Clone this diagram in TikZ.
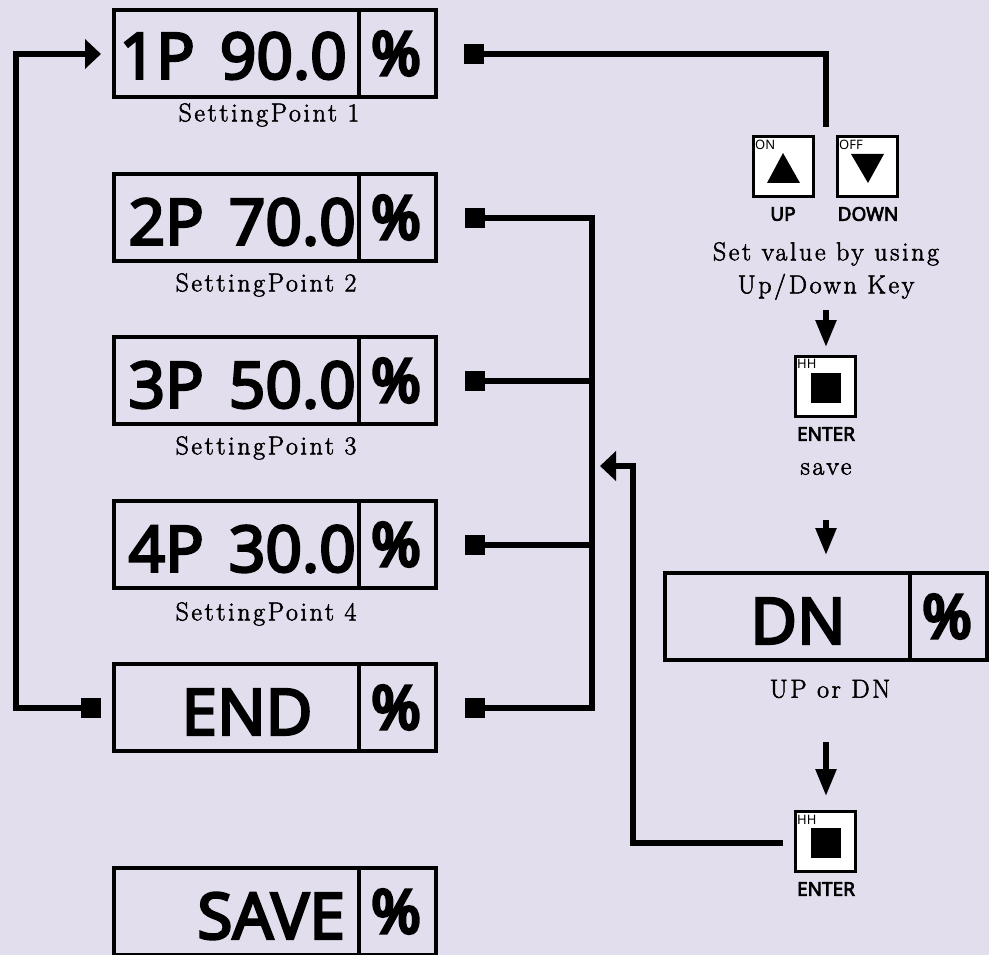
\documentclass[tikz,border=0pt]{standalone}
\usepackage{fontspec}
\usetikzlibrary{arrows.meta,calc}
\newfontfamily\dispfont[FakeBold=3.8,WordSpace=1.5]{Noto Sans}
\newfontfamily\pctfont[FakeBold=5.5]{Noto Sans}
\newfontfamily\keyfont[FakeBold=3.5]{Noto Sans}
\newfontfamily\smallfont{Noto Sans}
\setmainfont[LetterSpace=10,FakeBold=2]{Latin Modern Roman}
\definecolor{bg}{HTML}{E2DEEE}
\newcommand{\pc}{\kern-3pt\raisebox{-3pt}{\%}}
\tikzset{
  x=1pt,y=-1pt,
  disp/.style={draw=black,line width=4.8pt,minimum width=245pt,minimum height=87pt,inner sep=0pt,outer sep=0pt,anchor=north west},
  pct/.style={draw=black,line width=4.8pt,minimum width=77pt,minimum height=87pt,inner sep=0pt,outer sep=0pt,anchor=north west,font=\pctfont\fontsize{60}{60}\selectfont},
  disptext/.style={inner sep=0pt,font=\dispfont\fontsize{64}{64}\selectfont},
  caption/.style={inner sep=0pt,font=\fontsize{26}{26}\selectfont,align=center},
  keybox/.style={draw=black,fill=white,line width=3pt,minimum size=60pt,inner sep=0pt,outer sep=0pt,anchor=north west},
  keyname/.style={inner sep=0pt,font=\keyfont\fontsize{19}{19}\selectfont},
  keytag/.style={inner sep=0pt,font=\smallfont\fontsize{13}{13}\selectfont,anchor=west},
  glyph/.style={fill=black,draw=none},
  marker/.style={fill=black,draw=none,minimum size=20pt,inner sep=0pt,outer sep=0pt},
  conn/.style={draw=black,line width=5.5pt,line cap=butt,line join=miter},
  sidearrow/.style={conn,-{Triangle[length=16pt,width=29pt]}},
  downarrow/.style={conn,-{Triangle[length=27pt,width=20pt]}},
}
\begin{document}
\begin{tikzpicture}
\useasboundingbox (0,0) rectangle (989,955);
\fill[bg] (0,0) rectangle (989,955);
% displays
\node[disp] (d1) at (114,10) {};   \node[pct] (p1) at (d1.north east) {\pc};
\node[disp] (d2) at (114,174) {};  \node[pct] (p2) at (d2.north east) {\pc};
\node[disp] (d3) at (114,337) {};  \node[pct] (p3) at (d3.north east) {\pc};
\node[disp] (d4) at (114,501) {};  \node[pct] (p4) at (d4.north east) {\pc};
\node[disp] (d5) at (114,664) {};  \node[pct] (p5) at (d5.north east) {\pc};
\node[disp] (d6) at (114,868) {};  \node[pct] (p6) at (d6.north east) {\pc};
\node[disp] (dn) at (665,573) {};  \node[pct] (pn) at (dn.north east) {\pc};
\node[disptext,anchor=east] (t1) at (347,56) {1P 90.0};
\node[disptext,anchor=east] (t2) at (356,222) {2P 70.0};
\node[disptext,anchor=east] (t3) at (356,385) {3P 50.0};
\node[disptext,anchor=east] (t4) at (356,549) {4P 30.0};
\node[disptext] (t5) at (247,712) {END};
\node[disptext,anchor=east] (t6) at (345,916) {SAVE};
\node[disptext] (tn) at (798,621) {DN};
% captions
\node[caption] (c1) at (269,115) {SettingPoint 1};
\node[caption] (c2) at (266,285) {SettingPoint 2};
\node[caption] (c3) at (266,448) {SettingPoint 3};
\node[caption] (c4) at (266,614) {SettingPoint 4};
\node[caption] (c5) at (830,689) {UP or DN};
\node[caption] (c6) at (826,271) {Set value by using\\[7pt]Up/Down Key};
\node[caption] (c7) at (826,469) {save};
% keys
\node[keybox] (kup) at (753.5,136.5) {};
\node[keybox] (kdn) at (837.5,136.5) {};
\node[keybox] (ke1) at (795.5,356.5) {};
\node[keybox] (ke2) at (795.5,811.5) {};
\node[keytag] (tup) at (755,145) {ON};
\node[keytag] (tdn) at (839,145) {OFF};
\node[keytag] (te1) at (797,364) {HH};
\node[keytag] (te2) at (797,820) {HH};
\fill[glyph] (783,153) -- (800,183) -- (767,183) -- cycle;
\fill[glyph] (851,154) -- (884,154) -- (868,183) -- cycle;
\node[glyph,minimum size=30pt,inner sep=0pt] (s1) at (826,388) {};
\node[glyph,minimum size=30pt,inner sep=0pt] (s2) at (826,843) {};
\node[keyname] (nup) at (783,214) {UP};
\node[keyname] (ndn) at (868,214) {DOWN};
\node[keyname] (ne1) at (826,434) {ENTER};
\node[keyname] (ne2) at (826,889) {ENTER};
% markers
\node[marker] (m1) at (474,54) {};
\node[marker] (m2) at (475,218) {};
\node[marker] (m3) at (475,381) {};
\node[marker] (m4) at (475,545) {};
\node[marker] (m5) at (475,708) {};
\node[marker] (m6) at (91,708) {};
% free ends
\coordinate (a1) at (826,127);
\coordinate (bt) at (592,218);
\coordinate (bb) at (592,708);
\coordinate (lc) at (16,708);
\coordinate (lt) at (16,54);
\coordinate (e1) at (101,54);
\coordinate (rb) at (633,843);
\coordinate (rt) at (633,466);
\coordinate (e2) at (600,466);
\coordinate (r0) at (783,843);
\coordinate (v1a) at (826,310); \coordinate (v1b) at (826,347);
\coordinate (v2a) at (826,520); \coordinate (v2b) at (826,555);
\coordinate (v3a) at (826,742); \coordinate (v3b) at (826,796);
% connectors
\draw[conn] (m1) -| (a1);
\draw[conn] (m2) -- (bt) -- (bb) -- (m5);
\draw[conn] (m3) -- (m3 -| bt);
\draw[conn] (m4) -- (m4 -| bt);
\draw[sidearrow] (m6) -- (lc) -- (lt) -- (e1);
\draw[sidearrow] (r0) -- (rb) -- (rt) -- (e2);
\draw[downarrow] (v1a) -- (v1b);
\draw[downarrow] (v2a) -- (v2b);
\draw[downarrow] (v3a) -- (v3b);
\end{tikzpicture}
\end{document}
